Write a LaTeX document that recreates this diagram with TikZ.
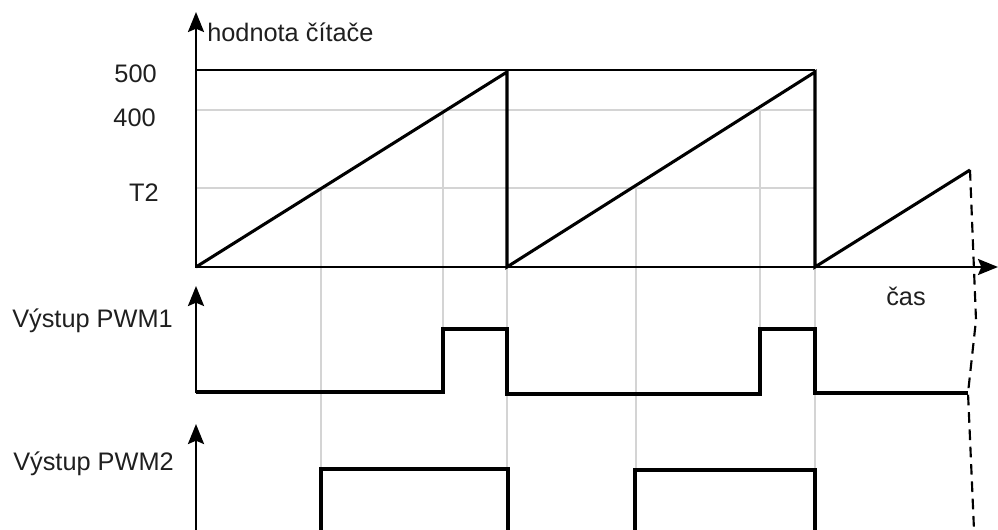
\documentclass[tikz,border=0pt]{standalone}
\usepackage{fontspec}
\setmainfont{Liberation Sans}
\usetikzlibrary{arrows.meta}
\begin{document}
\begin{tikzpicture}[x=0.75pt,y=-0.75pt,
  axisline/.style={line width=1.9pt,-{Stealth[length=15pt,width=12pt,inset=2.5pt]}},
  sig/.style={line width=2.3pt,line join=miter},
  grid/.style={line width=1.5pt,draw=black!17},
  lbl/.style={inner sep=0pt,font=\fontsize{19}{22}\selectfont,text=black!88}]
\useasboundingbox (0,0) rectangle (998,530);
% coordinates
\coordinate (O) at (196,267);
\coordinate (P1) at (507,72);
\coordinate (B1) at (507,267);
\coordinate (P2) at (815,72);
\coordinate (B2) at (815,267);
\coordinate (P3) at (970,170);
% grid lines
\draw[grid] (197,110) -- (815,110);
\draw[grid] (197,188) -- (815,188);
\draw[grid] (321,188) -- (321,469);
\draw[grid] (443,110) -- (443,329);
\draw[grid] (507,267) -- (507,530);
\draw[grid] (636,188) -- (636,470);
\draw[grid] (760,110) -- (760,329);
\draw[grid] (815,267) -- (815,530);
% 500 line
\draw[line width=1.1pt] (197,70) -- (815,70);
% axes
\draw[axisline] (196,268) -- (196,12);
\draw[axisline] (195,267) -- (998,267);
\draw[axisline] (196,393) -- (196,286);
\draw[axisline] (196,530) -- (196,424);
% sawtooth
\draw[sig] (O) -- (P1) -- (B1) -- (P2) -- (B2) -- (P3);
% dashed
\draw[line width=1.6pt,dash pattern=on 8pt off 5pt] (P3) -- (976,320) -- (968,393) -- (974,530);
% PWM1
\draw[sig] (196,392) -- (443,392) -- (443,329) -- (507,329) -- (507,394) -- (760,394) -- (760,329) -- (815,329) -- (815,393) -- (968,393);
% PWM2
\draw[sig] (321,530) -- (321,469) -- (508,469) -- (508,530);
\draw[sig] (635,530) -- (635,470) -- (815,470) -- (815,530);
% labels
\node[lbl,anchor=base west] (ylab) at (207,42) {hodnota čítače};
\node[lbl,anchor=base east] (l500) at (157,83) {500};
\node[lbl,anchor=base east] (l400) at (156,127) {400};
\node[lbl,anchor=base east] (lT2) at (159,202) {T2};
\node[lbl,anchor=base west] (lcas) at (886,306) {čas};
\node[lbl,anchor=base west] (lpwm1) at (12,328) {Výstup PWM1};
\node[lbl,anchor=base west] (lpwm2) at (13,470) {Výstup PWM2};
\end{tikzpicture}
\end{document}
